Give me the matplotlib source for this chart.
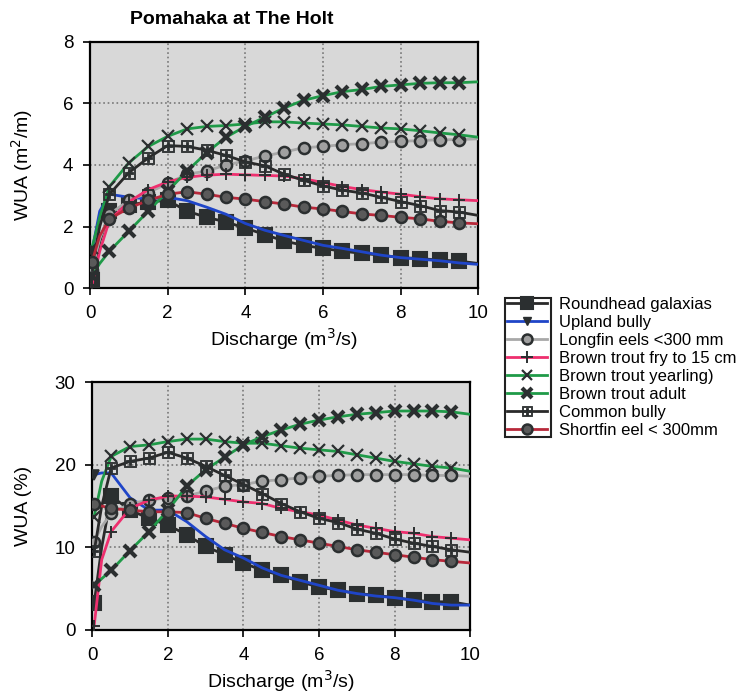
import matplotlib
matplotlib.use("Agg")
import matplotlib.pyplot as plt
from matplotlib.patches import Rectangle
import numpy as np

plt.rcParams['font.family'] = ['Liberation Sans', 'DejaVu Sans']

# discharge (m3/s)
q = [0.05, 0.25, 0.5, 1.0, 1.5, 2.0, 2.5, 3.0, 3.5, 4.0, 4.5, 5.0,
     5.5, 6.0, 6.5, 7.0, 7.5, 8.0, 8.5, 9.0, 9.5, 10.0]

species = ["Roundhead galaxias", "Upland bully", "Longfin eels <300 mm",
           "Brown trout fry to 15 cm", "Brown trout yearling)",
           "Brown trout adult", "Common bully", "Shortfin eel < 300mm"]

# WUA (m2/m)
wua_galaxias = [0.27, 1.5, 2.5, 2.7, 2.8, 2.85, 2.5, 2.3, 2.15, 1.95, 1.74, 1.53,
                1.39, 1.29, 1.2, 1.13, 1.07, 0.99, 0.96, 0.91, 0.88, 0.8]
wua_upland = [1.2, 2.5, 3.05, 2.95, 2.9, 2.95, 2.84, 2.63, 2.4, 2.1, 1.88, 1.71,
              1.55, 1.39, 1.29, 1.18, 1.07, 0.99, 0.94, 0.89, 0.82, 0.77]
wua_longfin = [0.6, 1.6, 2.4, 2.85, 3.1, 3.4, 3.7, 3.8, 4.0, 4.13, 4.29, 4.42,
               4.56, 4.6, 4.66, 4.69, 4.74, 4.77, 4.79, 4.82, 4.82, 4.85]
wua_fry = [0.1, 1.2, 2.2, 2.8, 3.2, 3.45, 3.6, 3.67, 3.7, 3.68, 3.66, 3.64,
           3.55, 3.43, 3.3, 3.2, 3.12, 3.05, 2.97, 2.9, 2.87, 2.84]
wua_yearling = [1.3, 2.3, 3.3, 4.07, 4.6, 4.93, 5.17, 5.25, 5.28, 5.33, 5.4, 5.4,
                5.36, 5.33, 5.3, 5.25, 5.2, 5.17, 5.11, 5.04, 4.98, 4.9]
wua_adult = [0.4, 0.8, 1.2, 1.85, 2.5, 3.15, 3.8, 4.4, 4.9, 5.25, 5.55, 5.85,
             6.1, 6.25, 6.38, 6.45, 6.55, 6.6, 6.65, 6.67, 6.67, 6.7]
wua_common = [0.7, 2.0, 3.05, 3.75, 4.23, 4.63, 4.6, 4.48, 4.31, 4.1, 3.97, 3.7,
              3.5, 3.32, 3.18, 3.09, 2.95, 2.81, 2.68, 2.52, 2.47, 2.36]
wua_shortfin = [0.85, 1.7, 2.25, 2.6, 2.85, 3.05, 3.13, 3.05, 2.95, 2.89, 2.81, 2.73,
                2.63, 2.57, 2.49, 2.41, 2.36, 2.3, 2.25, 2.17, 2.12, 2.09]

# WUA (%)
pct_galaxias = [3.2, 10.0, 16.2, 14.5, 13.5, 12.7, 11.5, 10.1, 9.1, 8.1, 7.2, 6.6,
                5.8, 5.2, 4.8, 4.4, 4.2, 3.9, 3.6, 3.4, 3.4, 3.0]
pct_upland = [18.8, 19.0, 19.0, 16.0, 14.5, 14.5, 13.1, 11.3, 9.7, 8.7, 7.5, 6.6,
              6.0, 5.4, 4.8, 4.4, 4.1, 3.9, 3.6, 3.2, 3.0, 3.0]
pct_longfin = [10.7, 12.5, 14.1, 15.3, 15.7, 16.0, 16.2, 16.8, 17.4, 17.6, 18.0, 18.2,
               18.4, 18.6, 18.7, 18.8, 18.8, 18.8, 18.8, 18.7, 18.7, 18.6]
pct_fry = [0.5, 8.5, 11.9, 14.7, 15.7, 16.2, 16.2, 16.1, 15.8, 15.5, 15.3, 14.7,
           14.3, 13.9, 13.3, 12.7, 12.3, 11.9, 11.7, 11.3, 11.1, 10.9]
pct_yearling = [13.7, 18.0, 21.0, 22.2, 22.4, 22.8, 23.1, 23.1, 22.8, 22.6, 22.6, 22.3,
                22.0, 21.8, 21.6, 21.2, 20.8, 20.4, 20.1, 19.8, 19.6, 19.2]
pct_adult = [5.4, 6.2, 7.2, 9.6, 11.9, 14.5, 17.4, 19.4, 20.9, 22.4, 23.4, 24.2,
             24.9, 25.4, 25.8, 26.1, 26.3, 26.5, 26.5, 26.5, 26.4, 26.1]
pct_common = [9.5, 15.0, 19.6, 20.4, 20.8, 21.5, 20.8, 19.8, 18.7, 17.6, 16.5, 15.3,
              14.3, 13.5, 13.0, 12.2, 11.7, 11.0, 10.5, 10.1, 9.7, 9.4]
pct_shortfin = [15.3, 15.0, 14.7, 14.5, 14.3, 14.3, 14.2, 13.5, 12.9, 12.3, 11.8, 11.3,
                10.9, 10.5, 10.1, 9.7, 9.4, 9.1, 8.8, 8.5, 8.3, 8.1]

wua = [wua_galaxias, wua_upland, wua_longfin, wua_fry, wua_yearling,
       wua_adult, wua_common, wua_shortfin]
pct = [pct_galaxias, pct_upland, pct_longfin, pct_fry, pct_yearling,
       pct_adult, pct_common, pct_shortfin]

line_colors = ["#2a2a2a", "#1f45c8", "#a8a8a8", "#ee2f6e", "#1f9a48",
               "#1f9a48", "#2a2a2a", "#b8283a"]
markers = ["s", "v", "o", "+", "x", "x", r"$\boxplus$", "o"]
marker_face = ["#2b2f30", "#2b2f30", "#a0a0a0", "none", "none",
               "none", "#2b2f30", "#5a5a5a"]
marker_size = [10, 7, 8, 9, 8, 8, 8.5, 8]
marker_ew = [1.5, 1.2, 1.8, 1.4, 1.6, 3.0, 0.6, 1.8]

marks = [0] + list(range(2, len(q) - 1))
mark_sets = [marks, [0], marks, marks, marks, marks, marks, marks]

fig = plt.figure(figsize=(7.44, 6.96), dpi=100)
ax1 = fig.add_axes([0.121, 0.586, 0.522, 0.354])
ax2 = fig.add_axes([0.124, 0.095, 0.508, 0.356])

for ax, data in [(ax1, wua), (ax2, pct)]:
    ax.set_facecolor("#d8d8d8")
    for i in range(len(species)):
        ax.plot(q, data[i], color=line_colors[i], lw=2, marker=markers[i],
                markevery=mark_sets[i], ms=marker_size[i],
                mfc=marker_face[i], mec="#2b2f30", mew=marker_ew[i],
                label=species[i], zorder=3)
    ax.set_xlim(0, 10)
    ax.set_xticks([0, 2, 4, 6, 8, 10])
    ax.grid(True, ls=":", color="#777777", lw=1.2)
    ax.set_axisbelow(True)
    for s in ax.spines.values():
        s.set_linewidth(1.6)
    ax.tick_params(labelsize=13.5, length=5, width=1.2, pad=7)
    ax.set_xlabel("Discharge (m$^3$/s)", fontsize=14, labelpad=3)

ax1.set_ylim(0, 8)
ax1.set_yticks([0, 2, 4, 6, 8])
ax1.set_ylabel("WUA (m$^2$/m)", fontsize=14, labelpad=20)
ax2.set_ylim(0, 30)
ax2.set_yticks([0, 10, 20, 30])
ax2.set_ylabel("WUA (%)", fontsize=14, labelpad=16)

fig.text(0.311, 0.972, "Pomahaka at The Holt", fontsize=14, fontweight="bold",
         ha="center", va="center")

handles, labels = ax1.get_legend_handles_labels()
# upland bully legend handle shows its marker
handles[1] = plt.Line2D([], [], color=line_colors[1], lw=2, marker="v", ms=7,
                        mfc="#2b2f30", mec="#2b2f30")
leg = fig.legend(handles, labels, loc="upper left", bbox_to_anchor=(0.677, 0.578),
                 frameon=False, fontsize=12, labelspacing=0.18, handlelength=2.4,
                 handletextpad=0.7, borderaxespad=0, borderpad=0.2, markerscale=0.9)
fig.add_artist(Rectangle((0.679, 0.372), 0.062, 0.2, transform=fig.transFigure,
                         fill=False, lw=1.5, ec="#222222"))

fig.savefig("out.png", dpi=100)
